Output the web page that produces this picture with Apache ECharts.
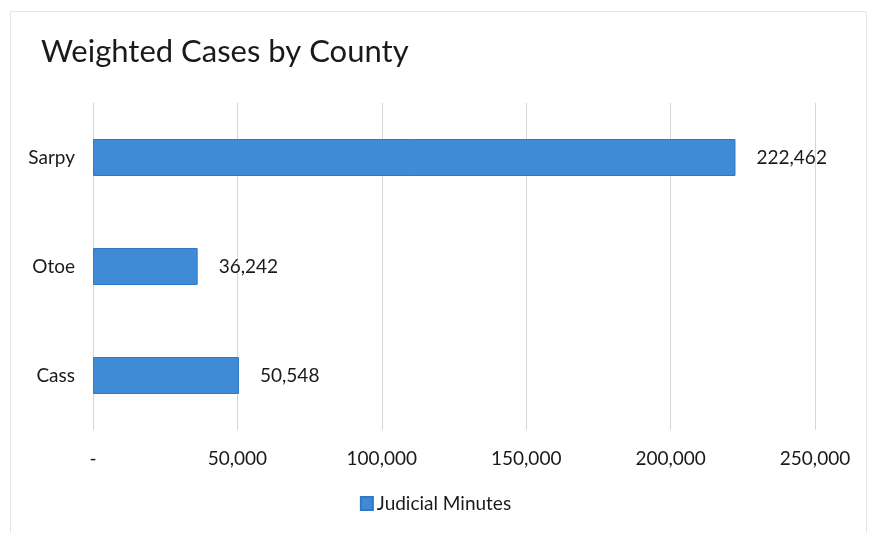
<!DOCTYPE html>
<html>
<head>
<meta charset="utf-8">
<script src="https://cdn.jsdelivr.net/npm/echarts@6/dist/echarts.min.js"></script>
<style>
html,body{margin:0;padding:0;background:#fff;}
#chart{width:871px;height:533px;}
</style>
</head>
<body>
<div id="chart"></div>
<script>
const titleText = 'Weighted Cases by County';
const seriesName = 'Judicial Minutes';
const categories = ['Cass', 'Otoe', 'Sarpy'];
const values = [50548, 36242, 222462];
const xTicks = [0, 50000, 100000, 150000, 200000, 250000];

const FONT = 'Lato, "Open Sans", sans-serif';
const fmt = v => v === 0 ? '-' : v.toLocaleString('en-US');

const chart = echarts.init(document.getElementById('chart'), null, {renderer: 'canvas'});
chart.setOption({
  backgroundColor: '#fff',
  animation: false,
  graphic: [{
    type: 'rect',
    shape: {x: 10.5, y: 11.5, width: 856, height: 540},
    style: {fill: 'none', stroke: '#e6e6e6', lineWidth: 1},
    silent: true
  }],
  title: {
    text: titleText,
    left: 36,
    top: 31,
    textStyle: {fontFamily: FONT, fontSize: 31, fontWeight: 'normal', color: '#1a1a1a'}
  },
  legend: {
    data: [seriesName],
    bottom: 15,
    left: 'center',
    icon: 'rect',
    itemWidth: 12,
    itemHeight: 13,
    itemGap: 4,
    textStyle: {fontFamily: FONT, fontSize: 19, color: '#1a1a1a', padding: [0,0,0,-1]}
  },
  grid: {left: 93, right: 56, top: 103, bottom: 103, containLabel: false},
  xAxis: {
    type: 'value',
    min: xTicks[0],
    max: xTicks[xTicks.length - 1],
    interval: xTicks[1] - xTicks[0],
    axisLine: {show: false},
    axisTick: {show: false},
    splitLine: {show: true, lineStyle: {color: '#d6d6d6', width: 1}},
    axisLabel: {
      formatter: fmt,
      fontFamily: FONT, fontSize: 19, color: '#1a1a1a',
      margin: 19
    }
  },
  yAxis: {
    type: 'category',
    data: categories,
    axisLine: {show: false},
    axisTick: {show: false},
    splitLine: {show: false},
    axisLabel: {fontFamily: FONT, fontSize: 19, color: '#1a1a1a', margin: 18}
  },
  series: [{
    name: seriesName,
    type: 'bar',
    data: values,
    barWidth: 37,
    itemStyle: {color: '#3f8bd6', borderColor: '#2f78c4', borderWidth: 1},
    label: {
      show: true,
      position: 'right',
      distance: 21,
      formatter: p => fmt(p.value),
      fontFamily: FONT, fontSize: 19, color: '#1a1a1a'
    }
  }]
});
</script>
</body>
</html>
